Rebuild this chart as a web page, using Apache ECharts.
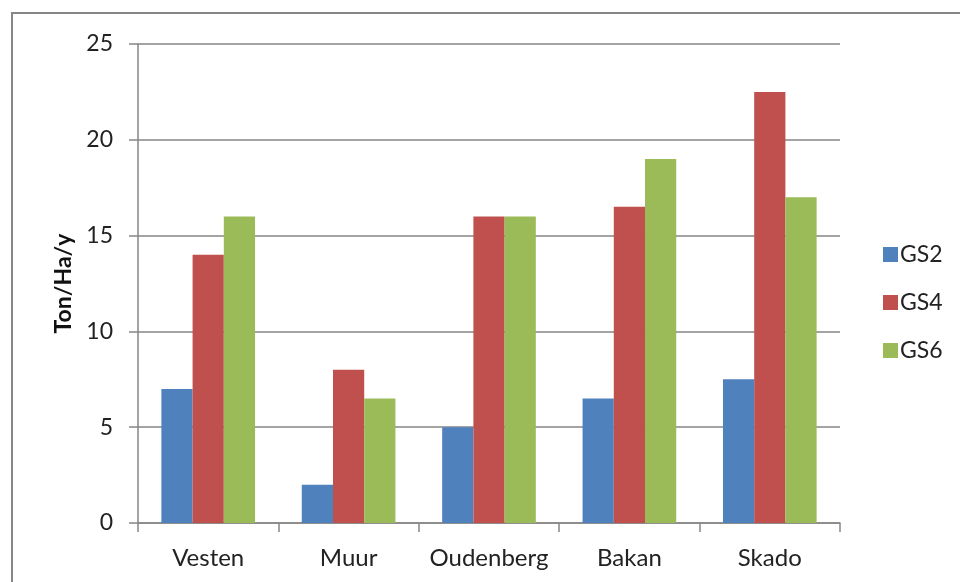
<!DOCTYPE html>
<html><head><meta charset="utf-8">
<script src="https://cdn.jsdelivr.net/npm/echarts@6/dist/echarts.min.js"></script>
<style>html,body{margin:0;padding:0;background:#fff}#c{width:960px;height:582px}</style>
</head><body><div id="c"></div>
<script>
const categories = ['Vesten','Muur','Oudenberg','Bakan','Skado'];
const GS2 = [7, 2, 5, 6.5, 7.5];
const GS4 = [14, 8, 16, 16.5, 22.5];
const GS6 = [16, 6.5, 16, 19, 17];
const seriesNames = ['GS2','GS4','GS6'];
const colors = ['#4F81BD','#C0504D','#9BBB59'];
const FONT = 'Lato';
const chart = echarts.init(document.getElementById('c'));
const data = [GS2, GS4, GS6];
chart.setOption({
  animation:false,
  textStyle:{fontFamily:FONT},
  graphic:[{type:'rect',shape:{x:12,y:13,width:980,height:600},style:{fill:'none',stroke:'#868686',lineWidth:2},silent:true}],
  grid:{left:138,right:120,top:44,bottom:59},
  legend:{orient:'vertical',left:878,top:238,itemWidth:15,itemHeight:15,itemGap:25,icon:'rect',
    textStyle:{fontSize:23,color:'#222',fontFamily:FONT,padding:[0,0,0,-3]},data:seriesNames},
  xAxis:{type:'category',data:categories,
    axisLine:{lineStyle:{color:'#868686',width:1.5}},
    axisTick:{show:true,length:9,alignWithLabel:false,lineStyle:{color:'#868686',width:1.5}},
    axisLabel:{interval:0,fontSize:24,color:'#222',margin:23,fontFamily:FONT}},
  yAxis:{type:'value',min:0,max:25,interval:5,
    name:'Ton/Ha/y',nameLocation:'middle',nameGap:62,nameRotate:90,
    nameTextStyle:{fontSize:23,fontWeight:'bold',color:'#111',fontFamily:FONT},
    axisLine:{show:true,lineStyle:{color:'#868686',width:1.5}},
    axisTick:{show:true,length:9,inside:false,lineStyle:{color:'#868686',width:1.5}},
    splitLine:{lineStyle:{color:'#868686',width:1.5}},
    axisLabel:{fontSize:23,color:'#222',margin:25,fontFamily:FONT}},
  series: seriesNames.map((n,i)=>({name:n,type:'bar',data:data[i],barGap:'0%',barCategoryGap:'33.3%',
    itemStyle:{color:colors[i]}}))
});
</script></body></html>
